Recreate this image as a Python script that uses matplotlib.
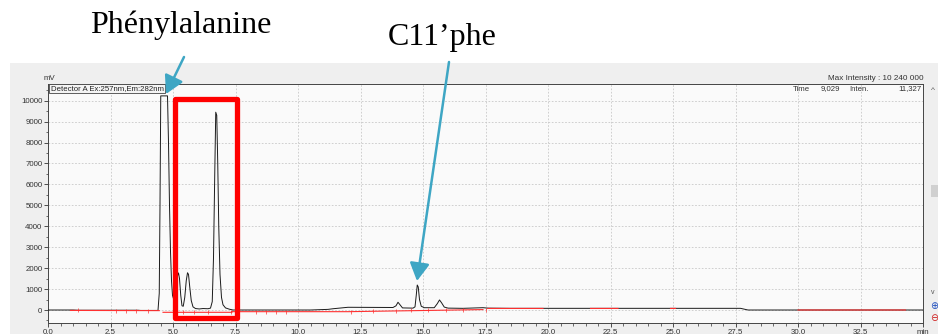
import numpy as np
import matplotlib.pyplot as plt
from matplotlib.patches import Rectangle, FancyArrowPatch
from matplotlib.ticker import MultipleLocator, FixedLocator, FixedFormatter

W, H = 938, 334

# chromatogram (black trace), time in min, signal in mV
time_min = [0.0, 1.0, 1.2, 3.6, 3.7, 4.40, 4.45, 4.48, 4.51, 4.78, 4.82, 4.86,
            4.90, 4.94, 4.98, 5.03, 5.10, 5.17, 5.22, 5.26, 5.31, 5.36, 5.41,
            5.47, 5.53, 5.58, 5.62, 5.67, 5.73, 5.80, 5.90, 6.05, 6.20, 6.40,
            6.50, 6.57, 6.62, 6.67, 6.71, 6.75, 6.79, 6.83, 6.88, 6.94, 7.00,
            7.10, 7.25, 7.40, 10.5, 11.2, 11.4, 12.0, 13.8, 13.92, 14.0, 14.08,
            14.18, 14.6, 14.68, 14.73, 14.77, 14.81, 14.86, 14.93, 15.05, 15.45,
            15.57, 15.66, 15.74, 15.85, 16.0, 16.6, 17.4, 17.6, 18.5, 27.7,
            28.0, 35.0]
signal_mv = [0, 0, -10, -10, -20, -20, 800, 5000, 10230, 10230, 8000, 5000,
             2800, 1400, 700, 500, 900, 1600, 1770, 1500, 700, 200, 180,
             600, 1400, 1780, 1700, 1100, 450, 150, 70, 50, 70, 60,
             90, 400, 2500, 6500, 9450, 9300, 7000, 4000, 1700, 600, 250,
             100, 40, 0, 0, 30, 60, 130, 120, 200, 370, 250,
             100, 90, 150, 700, 1195, 1100, 500, 180, 110, 110,
             300, 480, 350, 140, 90, 80, 110, 90, 80, 80,
             0, 0]

# integration baseline (red), NaN separates segments
base_t = [0.9, 4.45, np.nan, 4.6, 7.35, np.nan, 7.35, 12.0, 17.4, np.nan,
          17.6, 19.8, np.nan, 21.7, 22.8, np.nan, 24.9, 25.1, np.nan, 30.0, 34.3]
base_v = [-20, -30, np.nan, -110, -110, np.nan, -80, -80, 20, np.nan,
          75, 75, np.nan, 75, 75, np.nan, 75, 75, np.nan, 0, 0]
mark_t = [1.2, 2.7, 3.1, 3.5, 4.0, 5.4, 5.85, 6.4, 7.3, 8.3, 8.7, 9.1, 9.5,
          12.1, 13.0, 13.9, 14.5, 15.2, 15.9, 16.6, 17.5]
mark_v = [-20, -25, -25, -25, -30, -110, -110, -110, -110, -80, -80, -80, -80,
          -75, -50, -25, -10, 0, 5, 10, 20]

x_ticks = [0, 2.5, 5, 7.5, 10, 12.5, 15, 17.5, 20, 22.5, 25, 27.5, 30, 32.5, 35]
x_labels = ['0.0', '2.5', '5.0', '7.5', '10.0', '12.5', '15.0', '17.5', '20.0',
            '22.5', '25.0', '27.5', '30.0', '32.5', 'min']
y_ticks = list(range(0, 10001, 1000))


def fx(x):
    return x / W


def fy(y):
    return 1 - y / H


plt.rcParams['font.family'] = ['Liberation Sans', 'DejaVu Sans']
fig = plt.figure(figsize=(W / 100, H / 100), dpi=100)
fig.patch.set_facecolor('white')

# grey software panel
fig.add_artist(Rectangle((fx(10), 0), fx(928), fy(63), transform=fig.transFigure,
                         facecolor='#efefef', edgecolor='none', zorder=0))
# scrollbar
fig.add_artist(Rectangle((fx(931), fy(197)), fx(7), 12 / H, transform=fig.transFigure,
                         facecolor='#d0d0d0', edgecolor='none'))
fig.text(fx(933), fy(90), '^', fontsize=6, color='#555555', ha='center', va='center')
fig.text(fx(933), fy(292), 'v', fontsize=5, color='#555555', ha='center', va='center')
fig.text(fx(934), fy(306), '⊕', fontsize=7, color='#1f4fbf', ha='center', va='center',
         family='DejaVu Sans')
fig.text(fx(934), fy(318), '⊖', fontsize=7, color='#d02020', ha='center', va='center',
         family='DejaVu Sans')

ax = fig.add_axes([fx(48), fy(323), fx(923) - fx(48), fy(84) - fy(323)])
ax.set_facecolor('#fafafa')
ax.set_xlim(0, 35)
ax.set_ylim(-621, 10798)

ax.plot(time_min, signal_mv, color='#1a1a1a', lw=0.7, zorder=3)
ax.plot(base_t, base_v, color='#ff3030', lw=0.8, zorder=4)
ax.plot(mark_t, mark_v, ls='none', marker='|', ms=2.5, mew=0.5, color='#ff3030', zorder=4)

ax.xaxis.set_major_locator(FixedLocator(x_ticks))
ax.xaxis.set_major_formatter(FixedFormatter(x_labels))
ax.xaxis.set_minor_locator(MultipleLocator(0.5))
ax.yaxis.set_major_locator(FixedLocator(y_ticks))
ax.yaxis.set_minor_locator(MultipleLocator(500))
ax.tick_params(which='major', length=3, width=0.6, color='#333333',
               labelsize=5.7, labelcolor='#333333', pad=1)
ax.tick_params(which='minor', length=1.8, width=0.5, color='#333333')
ax.grid(True, which='major', ls=(0, (2, 2)), lw=0.6, color='#c8c8c8')
for s in ax.spines.values():
    s.set_color('#444444')
    s.set_linewidth(0.7)

# detector box and header texts
ax.text(0.003, 0.995, 'Detector A Ex:257nm,Em:282nm', transform=ax.transAxes,
        fontsize=5.6, color='#222222', ha='left', va='top',
        bbox=dict(boxstyle='square,pad=0.15', facecolor='#f4f4f4',
                  edgecolor='#444444', lw=0.6))
fig.text(fx(49), fy(79), 'mV', fontsize=5.6, color='#333333', ha='center', va='center')
fig.text(fx(924), fy(79), 'Max Intensity : 10 240 000', fontsize=5.9,
         color='#333333', ha='right', va='center')
fig.text(fx(793), fy(89), 'Time', fontsize=5.6, color='#333333', ha='left', va='center')
fig.text(fx(840), fy(89), '9,029', fontsize=5.6, color='#333333', ha='right', va='center')
fig.text(fx(849), fy(89), 'Inten.', fontsize=5.6, color='#333333', ha='left', va='center')
fig.text(fx(922), fy(89), '11,327', fontsize=5.6, color='#333333', ha='right', va='center')

# highlight box
ax.add_patch(Rectangle((5.09, -380), 7.56 - 5.09, 10080 + 380, fill=False,
                       edgecolor='#ff0000', lw=3.8, joinstyle='round',
                       clip_on=False, zorder=6))

# annotations
fig.text(fx(181), fy(25), 'Phénylalanine', family='Liberation Serif',
         fontsize=23, color='black', ha='center', va='center')
fig.text(fx(442), fy(37), 'C11’phe', family='Liberation Serif',
         fontsize=23, color='black', ha='center', va='center')
arrow_col = '#3ea6c4'
for (x0, y0), (x1, y1) in [((184, 57), (166, 94)), ((449, 62), (417, 281))]:
    fig.add_artist(FancyArrowPatch((fx(x0), fy(y0)), (fx(x1), fy(y1)),
                                   transform=fig.transFigure,
                                   arrowstyle='-|>,head_length=0.9,head_width=0.5',
                                   mutation_scale=12, color=arrow_col, lw=1.8,
                                   shrinkA=0, shrinkB=0, zorder=10))

fig.savefig('out.png', dpi=100)
